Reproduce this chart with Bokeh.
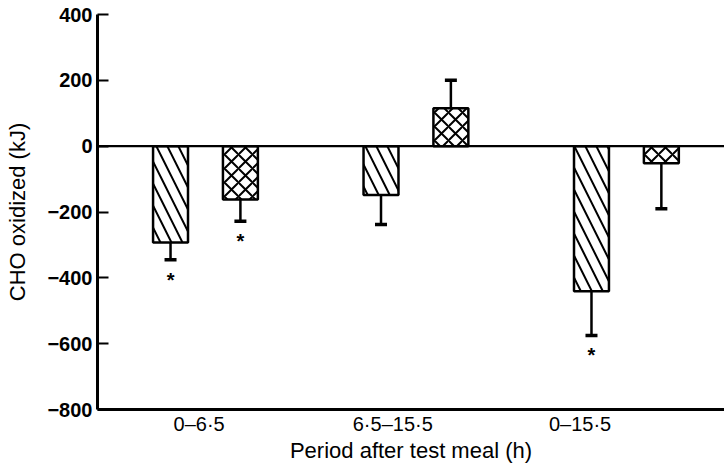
import numpy as np
from bokeh.plotting import figure
from bokeh.models import (Range1d, FixedTicker, CustomJSTickFormatter, Span,
                          ColumnDataSource)
from bokeh.core.properties import value
from bokeh.embed import file_html
from bokeh.resources import INLINE

# ---- data ----
categories = ["0\u20136\u00b75", "6\u00b75\u201315\u00b75", "0\u201315\u00b75"]
hatched_vals = [-293, -148, -441]
hatched_err = [52, 90, 134]
hatched_sig = [True, False, True]
cross_vals = [-162, 115, -52]
cross_err = [66, 85, 138]
cross_sig = [True, False, False]
y_ticks = [-800, -600, -400, -200, 0, 200, 400]

# ---- style ----
FONT = "Liberation Sans"
BAR_W = 0.166
OFFSET = 0.166
LABEL_SHIFT = [-0.03, -0.11, -0.22]

idx = np.arange(len(categories))

p = figure(width=724, height=469, output_backend="svg", toolbar_location=None,
           x_range=Range1d(-0.513, 2.466), y_range=Range1d(-800, 400),
           min_border_left=97, min_border_right=0, min_border_top=14,
           min_border_bottom=60)
p.outline_line_color = None
p.grid.visible = False
p.background_fill_color = "white"
p.border_fill_color = "white"

def draw(vals, errs, sig, off, pattern, scale):
    vals = np.array(vals, dtype=float)
    errs = np.array(errs, dtype=float)
    x = idx + off
    ends = vals + np.sign(vals) * errs
    src = ColumnDataSource(dict(x=x, top=vals, end=ends))
    p.vbar(x="x", top="top", bottom=0, width=BAR_W, source=src,
           fill_color="white", line_color="black", line_width=2.5,
           hatch_pattern=pattern, hatch_color="black", hatch_weight=2,
           hatch_scale=scale)
    p.segment(x0="x", y0="top", x1="x", y1="end", source=src,
              line_color="black", line_width=2.5)
    p.scatter(x="x", y="end", source=src, marker="dash", size=12,
              line_color="black", line_width=3.5)
    s = np.array(sig)
    star = ColumnDataSource(dict(x=x[s], y=ends[s]))
    p.text(x="x", y="y", text=value("*"), source=star, text_align="center",
           text_baseline="top", y_offset=9, text_font=value(FONT),
           text_font_size="20px", text_font_style="bold", text_color="black")

draw(hatched_vals, hatched_err, hatched_sig, -OFFSET, "\\", 22)
draw(cross_vals, cross_err, cross_sig, OFFSET, "x", 14)

p.add_layout(Span(location=0, dimension="width", line_color="black",
                  line_width=2.2))

# y axis
ya = p.yaxis[0]
ya.ticker = FixedTicker(ticks=y_ticks)
ya.formatter = CustomJSTickFormatter(
    code="return tick < 0 ? '\u2212' + Math.abs(tick) : String(tick);")
ya.axis_line_width = 3
ya.major_tick_line_width = 2
ya.major_tick_in = 11
ya.major_tick_out = 0
ya.minor_tick_line_color = None
ya.major_label_text_font = FONT
ya.major_label_text_font_size = "20px"
ya.major_label_text_font_style = "bold"
ya.major_label_text_color = "black"
ya.major_label_standoff = 5
ya.axis_label = "CHO oxidized (kJ)"
ya.axis_label_text_font = FONT
ya.axis_label_text_font_size = "22px"
ya.axis_label_text_font_style = "normal"
ya.axis_label_text_color = "black"
ya.axis_label_standoff = 14

# x axis
xa = p.xaxis[0]
xa.ticker = FixedTicker(ticks=list(idx + np.array(LABEL_SHIFT)))
xa.formatter = CustomJSTickFormatter(args=dict(labels=categories),
                                     code="return labels[index];")
xa.axis_line_width = 3
xa.major_tick_line_color = None
xa.major_tick_in = 0
xa.major_tick_out = 0
xa.minor_tick_line_color = None
xa.major_label_text_font = FONT
xa.major_label_text_font_size = "20px"
xa.major_label_text_color = "black"
xa.major_label_standoff = 3
xa.axis_label = "Period after test meal (h)"
xa.axis_label_text_font = FONT
xa.axis_label_text_font_size = "22px"
xa.axis_label_text_font_style = "normal"
xa.axis_label_text_color = "black"
xa.axis_label_standoff = 0

open("out.html", "w").write(file_html(p, INLINE))
